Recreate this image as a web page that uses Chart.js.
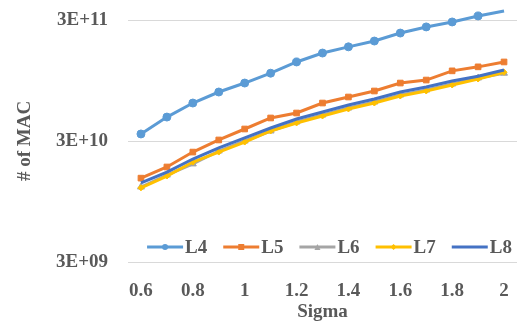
<!DOCTYPE html>
<html>
<head>
<meta charset="utf-8">
<script src="https://cdn.jsdelivr.net/npm/chart.js@4/dist/chart.umd.min.js"></script>
<style>
  html, body { margin: 0; padding: 0; background: #fff; }
  #wrap { width: 525px; height: 325px; }
</style>
</head>
<body>
<div id="wrap"><canvas id="chart"></canvas></div>
<script>
const sigma = ['0.6', '0.7', '0.8', '0.9', '1', '1.1', '1.2', '1.3', '1.4', '1.5', '1.6', '1.7', '1.8', '1.9', '2'];

const l4 = [3.43e10, 4.73e10, 6.18e10, 7.62e10, 9.04e10, 1.09e11, 1.35e11, 1.60e11, 1.80e11, 2.01e11, 2.34e11, 2.63e11, 2.89e11, 3.24e11, 3.56e11];
const l5 = [1.48e10, 1.83e10, 2.43e10, 3.06e10, 3.77e10, 4.65e10, 5.11e10, 6.18e10, 6.93e10, 7.77e10, 9.04e10, 9.57e10, 1.14e11, 1.23e11, 1.35e11];
const l6 = [1.25e10, 1.57e10, 1.94e10, 2.48e10, 3.00e10, 3.63e10, 4.31e10, 4.92e10, 5.62e10, 6.30e10, 7.20e10, 7.91e10, 8.87e10, 9.95e10, 1.09e11];
const l7 = [1.23e10, 1.54e10, 2.01e10, 2.43e10, 2.94e10, 3.63e10, 4.23e10, 4.83e10, 5.52e10, 6.18e10, 7.06e10, 7.77e10, 8.71e10, 9.76e10, 1.11e11];
const l8 = [1.35e10, 1.66e10, 2.13e10, 2.63e10, 3.18e10, 3.84e10, 4.56e10, 5.21e10, 5.95e10, 6.67e10, 7.62e10, 8.38e10, 9.40e10, 1.03e11, 1.16e11];

const yTicks = [3e9, 3e10, 3e11];
const yLabels = ['3E+09', '3E+10', '3E+11'];

const textColor = '#595959';
const font = { family: "'Liberation Serif', 'Times New Roman', serif", size: 19, weight: 'bold' };

// legend drawn inside the plot area, just above the bottom gridline
const innerLegend = {
  id: 'innerLegend',
  afterDraw( chart ) {
    const ctx = chart.ctx;
    const area = chart.chartArea;
    const y = area.bottom - 15;
    const lineLen = 36;
    ctx.save();
    ctx.font = `bold ${font.size}px ${font.family}`;
    ctx.textBaseline = 'middle';
    const items = chart.data.datasets.map( ds => ( { ds, w: lineLen + 2 + ctx.measureText( ds.label ).width } ) );
    const gap = 16;
    const total = items.reduce( ( s, it ) => s + it.w, 0 ) + gap * ( items.length - 1 );
    let x = ( area.left + area.right ) / 2 - total / 2 + 7;
    items.forEach( ( { ds, w } ) => {
      ctx.strokeStyle = ds.borderColor;
      ctx.lineWidth = 3;
      ctx.beginPath();
      ctx.moveTo( x, y );
      ctx.lineTo( x + lineLen, y );
      ctx.stroke();
      if ( ds.pointRadius > 0 ) {
        ctx.fillStyle = ds.borderColor;
        const cx = x + lineLen / 2;
        const r = 3;
        ctx.beginPath();
        if ( ds.pointStyle === 'circle' ) {
          ctx.arc( cx, y, r, 0, Math.PI * 2 );
        } else if ( ds.pointStyle === 'rect' ) {
          ctx.rect( cx - r, y - r, r * 2, r * 2 );
        } else if ( ds.pointStyle === 'triangle' ) {
          ctx.moveTo( cx, y - r );
          ctx.lineTo( cx + r, y + r );
          ctx.lineTo( cx - r, y + r );
          ctx.closePath();
        } else {
          ctx.moveTo( cx, y - r );
          ctx.lineTo( cx + r, y );
          ctx.lineTo( cx, y + r );
          ctx.lineTo( cx - r, y );
          ctx.closePath();
        }
        ctx.fill();
      }
      ctx.fillStyle = textColor;
      ctx.fillText( ds.label, x + lineLen + 2, y + 1 );
      x += w + gap;
    } );
    ctx.restore();
  }
};

const series = ( label, data, color, pointStyle, radius, order ) => ( {
  label,
  data,
  borderColor: color,
  backgroundColor: color,
  borderWidth: 3,
  pointStyle,
  pointRadius: radius,
  pointBorderWidth: 1,
  tension: 0,
  clip: false,
  order
} );

new Chart( document.getElementById( 'chart' ), {
  type: 'line',
  data: {
    labels: sigma,
    datasets: [
      series( 'L4', l4, '#5B9BD5', 'circle', 4, 5 ),
      series( 'L5', l5, '#ED7D31', 'rect', 4, 4 ),
      series( 'L6', l6, '#A5A5A5', 'triangle', 4, 3 ),
      series( 'L7', l7, '#FFC000', 'rectRot', 3, 2 ),
      series( 'L8', l8, '#4472C4', 'circle', 0, 1 )
    ]
  },
  options: {
    responsive: true,
    maintainAspectRatio: false,
    animation: false,
    layout: { padding: { top: 20, right: 8, bottom: 0, left: 0 } },
    plugins: {
      legend: { display: false },
      tooltip: { enabled: false }
    },
    scales: {
      x: {
        type: 'category',
        offset: true,
        grid: { display: false },
        border: { display: false },
        ticks: {
          autoSkip: false,
          maxRotation: 0,
          padding: 10,
          color: textColor,
          font,
          callback: function( value, index ) {
            return index % 2 === 0 ? this.getLabelForValue( value ) : '';
          }
        },
        title: {
          display: true,
          text: 'Sigma',
          color: textColor,
          font,
          padding: { top: 0, bottom: 2 }
        },
        afterFit( scale ) { scale.height = 63; }
      },
      y: {
        type: 'logarithmic',
        min: 3e9,
        max: 3e11,
        border: { display: false },
        // invisible tick marks keep the labels off the plot without padding the top
        grid: { color: '#D9D9D9', lineWidth: 1, drawTicks: true, tickLength: 20, tickColor: 'rgba(0,0,0,0)' },
        afterBuildTicks( scale ) {
          scale.ticks = yTicks.map( v => ( { value: v } ) );
        },
        ticks: {
          padding: 0,
          color: textColor,
          font,
          callback: ( value ) => yLabels[ yTicks.indexOf( value ) ]
        },
        title: {
          display: true,
          text: '# of MAC',
          color: textColor,
          font,
          padding: { top: 14, bottom: 0 }
        },
        afterFit( scale ) { scale.width = 128; }
      }
    }
  },
  plugins: [ innerLegend ]
} );
</script>
</body>
</html>
